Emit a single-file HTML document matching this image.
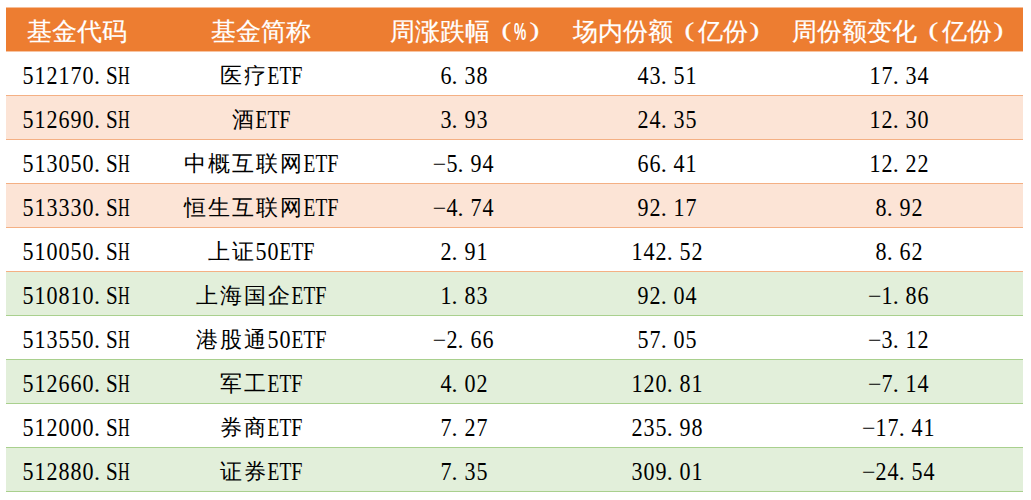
<!DOCTYPE html><html><head><meta charset="utf-8"><style>
html,body{margin:0;padding:0;background:#fff;width:1031px;height:500px;overflow:hidden;position:relative}
.bg{position:absolute;left:6px;width:1017px}
.t{position:absolute;white-space:nowrap;height:44px;line-height:44px;font-family:"Liberation Serif",serif;font-size:24px;color:#000}
.cen{width:400px;text-align:center}
.h{color:#fff}
i{font-style:normal;display:inline-flex;justify-content:center;vertical-align:top;height:44px}
b{font-weight:normal;display:inline-block}
i.a{width:12px}
i.d{font-size:24.8px;transform:scaleX(0.89)}
i.a b{font-size:24.5px}
i.p{justify-content:flex-start;text-indent:0}
i.p b, i.p{}
i.c{width:24px;font-size:22px;font-weight:300}
.h i.c{font-size:24.5px;font-weight:500;width:25px;-webkit-text-stroke:0.2px #fff}
.h i.a{width:13px}
i.po{justify-content:flex-end}
i.po b{margin-right:5px}
i.pcl{justify-content:flex-start}
i.pcl b{margin-left:3px}
i.pc b{font-weight:bold;font-size:23px;transform:scaleX(0.6);font-family:"Liberation Sans",sans-serif;position:relative;top:0px;left:-1px}
.h i.po, .h i.pcl{font-size:25px;font-weight:normal;font-family:"Liberation Serif",serif}
.h i.po b, .h i.pcl b{transform:scaleX(1.4);font-size:21px;position:relative;top:-2px}
</style></head><body>

<div class="bg" style="top:7px;height:1px;background:#ED7D31;opacity:0.5"></div>
<div class="bg" style="top:8px;height:43px;background:#ED7D31"></div>
<div class="bg" style="top:51px;height:1px;background:#ED7D31;opacity:0.45"></div>
<div class="bg" style="top:52px;height:43px;background:#fff"></div>
<div class="bg" style="top:95px;height:1px;background:#F4B084"></div>
<div class="bg" style="top:96px;height:43px;background:#FCE4D6"></div>
<div class="bg" style="top:139px;height:1px;background:#F4B084"></div>
<div class="bg" style="top:140px;height:43px;background:#fff"></div>
<div class="bg" style="top:183px;height:1px;background:#F4B084"></div>
<div class="bg" style="top:184px;height:43px;background:#FCE4D6"></div>
<div class="bg" style="top:227px;height:1px;background:#F4B084"></div>
<div class="bg" style="top:228px;height:43px;background:#fff"></div>
<div class="bg" style="top:271px;height:1px;background:#F4B084"></div>
<div class="bg" style="top:272px;height:43px;background:#E2EFDA"></div>
<div class="bg" style="top:315px;height:1px;background:#A9D08E"></div>
<div class="bg" style="top:316px;height:43px;background:#fff"></div>
<div class="bg" style="top:359px;height:1px;background:#A9D08E"></div>
<div class="bg" style="top:360px;height:43px;background:#E2EFDA"></div>
<div class="bg" style="top:403px;height:1px;background:#A9D08E"></div>
<div class="bg" style="top:404px;height:43px;background:#fff"></div>
<div class="bg" style="top:447px;height:1px;background:#A9D08E"></div>
<div class="bg" style="top:448px;height:43px;background:#E2EFDA"></div>
<div class="bg" style="top:491px;height:1px;background:#A9D08E"></div>
<div class="t h" style="top:10px;left:26.5px"><i class="c">基</i><i class="c">金</i><i class="c">代</i><i class="c">码</i></div>
<div class="t h" style="top:10px;left:210.5px"><i class="c">基</i><i class="c">金</i><i class="c">简</i><i class="c">称</i></div>
<div class="t h" style="top:10px;left:389.5px"><i class="c">周</i><i class="c">涨</i><i class="c">跌</i><i class="c">幅</i><i class="c po"><b>(</b></i><i class="a pc"><b>%</b></i><i class="c pcl"><b>)</b></i></div>
<div class="t h" style="top:10px;left:573px"><i class="c">场</i><i class="c">内</i><i class="c">份</i><i class="c">额</i><i class="c po"><b>(</b></i><i class="c">亿</i><i class="c">份</i><i class="c pcl"><b>)</b></i></div>
<div class="t h" style="top:10px;left:792px"><i class="c">周</i><i class="c">份</i><i class="c">额</i><i class="c">变</i><i class="c">化</i><i class="c po"><b>(</b></i><i class="c">亿</i><i class="c">份</i><i class="c pcl"><b>)</b></i></div>
<div class="t" style="top:54px;left:22px"><i class="a d">5</i><i class="a d">1</i><i class="a d">2</i><i class="a d">1</i><i class="a d">7</i><i class="a d">0</i><i class="a p">.</i><i class="a"><b style="transform:scaleX(0.86)">S</b></i><i class="a"><b style="transform:scaleX(0.66)">H</b></i></div>
<div class="t cen" style="top:54px;left:61px"><i class="c">医</i><i class="c">疗</i><i class="a"><b style="transform:scaleX(0.79)">E</b></i><i class="a"><b style="transform:scaleX(0.79)">T</b></i><i class="a"><b style="transform:scaleX(0.82)">F</b></i></div>
<div class="t cen" style="top:54px;left:263.5px"><i class="a d">6</i><i class="a p">.</i><i class="a d">3</i><i class="a d">8</i></div>
<div class="t cen" style="top:54px;left:466.70000000000005px"><i class="a d">4</i><i class="a d">3</i><i class="a p">.</i><i class="a d">5</i><i class="a d">1</i></div>
<div class="t cen" style="top:54px;left:698.7px"><i class="a d">1</i><i class="a d">7</i><i class="a p">.</i><i class="a d">3</i><i class="a d">4</i></div>
<div class="t" style="top:98px;left:22px"><i class="a d">5</i><i class="a d">1</i><i class="a d">2</i><i class="a d">6</i><i class="a d">9</i><i class="a d">0</i><i class="a p">.</i><i class="a"><b style="transform:scaleX(0.86)">S</b></i><i class="a"><b style="transform:scaleX(0.66)">H</b></i></div>
<div class="t cen" style="top:98px;left:61px"><i class="c">酒</i><i class="a"><b style="transform:scaleX(0.79)">E</b></i><i class="a"><b style="transform:scaleX(0.79)">T</b></i><i class="a"><b style="transform:scaleX(0.82)">F</b></i></div>
<div class="t cen" style="top:98px;left:263.5px"><i class="a d">3</i><i class="a p">.</i><i class="a d">9</i><i class="a d">3</i></div>
<div class="t cen" style="top:98px;left:466.70000000000005px"><i class="a d">2</i><i class="a d">4</i><i class="a p">.</i><i class="a d">3</i><i class="a d">5</i></div>
<div class="t cen" style="top:98px;left:698.7px"><i class="a d">1</i><i class="a d">2</i><i class="a p">.</i><i class="a d">3</i><i class="a d">0</i></div>
<div class="t" style="top:142px;left:22px"><i class="a d">5</i><i class="a d">1</i><i class="a d">3</i><i class="a d">0</i><i class="a d">5</i><i class="a d">0</i><i class="a p">.</i><i class="a"><b style="transform:scaleX(0.86)">S</b></i><i class="a"><b style="transform:scaleX(0.66)">H</b></i></div>
<div class="t cen" style="top:142px;left:61px"><i class="c">中</i><i class="c">概</i><i class="c">互</i><i class="c">联</i><i class="c">网</i><i class="a"><b style="transform:scaleX(0.79)">E</b></i><i class="a"><b style="transform:scaleX(0.79)">T</b></i><i class="a"><b style="transform:scaleX(0.82)">F</b></i></div>
<div class="t cen" style="top:142px;left:263.5px"><i class="a m">&#8722;</i><i class="a d">5</i><i class="a p">.</i><i class="a d">9</i><i class="a d">4</i></div>
<div class="t cen" style="top:142px;left:466.70000000000005px"><i class="a d">6</i><i class="a d">6</i><i class="a p">.</i><i class="a d">4</i><i class="a d">1</i></div>
<div class="t cen" style="top:142px;left:698.7px"><i class="a d">1</i><i class="a d">2</i><i class="a p">.</i><i class="a d">2</i><i class="a d">2</i></div>
<div class="t" style="top:186px;left:22px"><i class="a d">5</i><i class="a d">1</i><i class="a d">3</i><i class="a d">3</i><i class="a d">3</i><i class="a d">0</i><i class="a p">.</i><i class="a"><b style="transform:scaleX(0.86)">S</b></i><i class="a"><b style="transform:scaleX(0.66)">H</b></i></div>
<div class="t cen" style="top:186px;left:61px"><i class="c">恒</i><i class="c">生</i><i class="c">互</i><i class="c">联</i><i class="c">网</i><i class="a"><b style="transform:scaleX(0.79)">E</b></i><i class="a"><b style="transform:scaleX(0.79)">T</b></i><i class="a"><b style="transform:scaleX(0.82)">F</b></i></div>
<div class="t cen" style="top:186px;left:263.5px"><i class="a m">&#8722;</i><i class="a d">4</i><i class="a p">.</i><i class="a d">7</i><i class="a d">4</i></div>
<div class="t cen" style="top:186px;left:466.70000000000005px"><i class="a d">9</i><i class="a d">2</i><i class="a p">.</i><i class="a d">1</i><i class="a d">7</i></div>
<div class="t cen" style="top:186px;left:698.7px"><i class="a d">8</i><i class="a p">.</i><i class="a d">9</i><i class="a d">2</i></div>
<div class="t" style="top:230px;left:22px"><i class="a d">5</i><i class="a d">1</i><i class="a d">0</i><i class="a d">0</i><i class="a d">5</i><i class="a d">0</i><i class="a p">.</i><i class="a"><b style="transform:scaleX(0.86)">S</b></i><i class="a"><b style="transform:scaleX(0.66)">H</b></i></div>
<div class="t cen" style="top:230px;left:61px"><i class="c">上</i><i class="c">证</i><i class="a d">5</i><i class="a d">0</i><i class="a"><b style="transform:scaleX(0.79)">E</b></i><i class="a"><b style="transform:scaleX(0.79)">T</b></i><i class="a"><b style="transform:scaleX(0.82)">F</b></i></div>
<div class="t cen" style="top:230px;left:263.5px"><i class="a d">2</i><i class="a p">.</i><i class="a d">9</i><i class="a d">1</i></div>
<div class="t cen" style="top:230px;left:466.70000000000005px"><i class="a d">1</i><i class="a d">4</i><i class="a d">2</i><i class="a p">.</i><i class="a d">5</i><i class="a d">2</i></div>
<div class="t cen" style="top:230px;left:698.7px"><i class="a d">8</i><i class="a p">.</i><i class="a d">6</i><i class="a d">2</i></div>
<div class="t" style="top:274px;left:22px"><i class="a d">5</i><i class="a d">1</i><i class="a d">0</i><i class="a d">8</i><i class="a d">1</i><i class="a d">0</i><i class="a p">.</i><i class="a"><b style="transform:scaleX(0.86)">S</b></i><i class="a"><b style="transform:scaleX(0.66)">H</b></i></div>
<div class="t cen" style="top:274px;left:61px"><i class="c">上</i><i class="c">海</i><i class="c">国</i><i class="c">企</i><i class="a"><b style="transform:scaleX(0.79)">E</b></i><i class="a"><b style="transform:scaleX(0.79)">T</b></i><i class="a"><b style="transform:scaleX(0.82)">F</b></i></div>
<div class="t cen" style="top:274px;left:263.5px"><i class="a d">1</i><i class="a p">.</i><i class="a d">8</i><i class="a d">3</i></div>
<div class="t cen" style="top:274px;left:466.70000000000005px"><i class="a d">9</i><i class="a d">2</i><i class="a p">.</i><i class="a d">0</i><i class="a d">4</i></div>
<div class="t cen" style="top:274px;left:698.7px"><i class="a m">&#8722;</i><i class="a d">1</i><i class="a p">.</i><i class="a d">8</i><i class="a d">6</i></div>
<div class="t" style="top:318px;left:22px"><i class="a d">5</i><i class="a d">1</i><i class="a d">3</i><i class="a d">5</i><i class="a d">5</i><i class="a d">0</i><i class="a p">.</i><i class="a"><b style="transform:scaleX(0.86)">S</b></i><i class="a"><b style="transform:scaleX(0.66)">H</b></i></div>
<div class="t cen" style="top:318px;left:61px"><i class="c">港</i><i class="c">股</i><i class="c">通</i><i class="a d">5</i><i class="a d">0</i><i class="a"><b style="transform:scaleX(0.79)">E</b></i><i class="a"><b style="transform:scaleX(0.79)">T</b></i><i class="a"><b style="transform:scaleX(0.82)">F</b></i></div>
<div class="t cen" style="top:318px;left:263.5px"><i class="a m">&#8722;</i><i class="a d">2</i><i class="a p">.</i><i class="a d">6</i><i class="a d">6</i></div>
<div class="t cen" style="top:318px;left:466.70000000000005px"><i class="a d">5</i><i class="a d">7</i><i class="a p">.</i><i class="a d">0</i><i class="a d">5</i></div>
<div class="t cen" style="top:318px;left:698.7px"><i class="a m">&#8722;</i><i class="a d">3</i><i class="a p">.</i><i class="a d">1</i><i class="a d">2</i></div>
<div class="t" style="top:362px;left:22px"><i class="a d">5</i><i class="a d">1</i><i class="a d">2</i><i class="a d">6</i><i class="a d">6</i><i class="a d">0</i><i class="a p">.</i><i class="a"><b style="transform:scaleX(0.86)">S</b></i><i class="a"><b style="transform:scaleX(0.66)">H</b></i></div>
<div class="t cen" style="top:362px;left:61px"><i class="c">军</i><i class="c">工</i><i class="a"><b style="transform:scaleX(0.79)">E</b></i><i class="a"><b style="transform:scaleX(0.79)">T</b></i><i class="a"><b style="transform:scaleX(0.82)">F</b></i></div>
<div class="t cen" style="top:362px;left:263.5px"><i class="a d">4</i><i class="a p">.</i><i class="a d">0</i><i class="a d">2</i></div>
<div class="t cen" style="top:362px;left:466.70000000000005px"><i class="a d">1</i><i class="a d">2</i><i class="a d">0</i><i class="a p">.</i><i class="a d">8</i><i class="a d">1</i></div>
<div class="t cen" style="top:362px;left:698.7px"><i class="a m">&#8722;</i><i class="a d">7</i><i class="a p">.</i><i class="a d">1</i><i class="a d">4</i></div>
<div class="t" style="top:406px;left:22px"><i class="a d">5</i><i class="a d">1</i><i class="a d">2</i><i class="a d">0</i><i class="a d">0</i><i class="a d">0</i><i class="a p">.</i><i class="a"><b style="transform:scaleX(0.86)">S</b></i><i class="a"><b style="transform:scaleX(0.66)">H</b></i></div>
<div class="t cen" style="top:406px;left:61px"><i class="c">券</i><i class="c">商</i><i class="a"><b style="transform:scaleX(0.79)">E</b></i><i class="a"><b style="transform:scaleX(0.79)">T</b></i><i class="a"><b style="transform:scaleX(0.82)">F</b></i></div>
<div class="t cen" style="top:406px;left:263.5px"><i class="a d">7</i><i class="a p">.</i><i class="a d">2</i><i class="a d">7</i></div>
<div class="t cen" style="top:406px;left:466.70000000000005px"><i class="a d">2</i><i class="a d">3</i><i class="a d">5</i><i class="a p">.</i><i class="a d">9</i><i class="a d">8</i></div>
<div class="t cen" style="top:406px;left:698.7px"><i class="a m">&#8722;</i><i class="a d">1</i><i class="a d">7</i><i class="a p">.</i><i class="a d">4</i><i class="a d">1</i></div>
<div class="t" style="top:450px;left:22px"><i class="a d">5</i><i class="a d">1</i><i class="a d">2</i><i class="a d">8</i><i class="a d">8</i><i class="a d">0</i><i class="a p">.</i><i class="a"><b style="transform:scaleX(0.86)">S</b></i><i class="a"><b style="transform:scaleX(0.66)">H</b></i></div>
<div class="t cen" style="top:450px;left:61px"><i class="c">证</i><i class="c">券</i><i class="a"><b style="transform:scaleX(0.79)">E</b></i><i class="a"><b style="transform:scaleX(0.79)">T</b></i><i class="a"><b style="transform:scaleX(0.82)">F</b></i></div>
<div class="t cen" style="top:450px;left:263.5px"><i class="a d">7</i><i class="a p">.</i><i class="a d">3</i><i class="a d">5</i></div>
<div class="t cen" style="top:450px;left:466.70000000000005px"><i class="a d">3</i><i class="a d">0</i><i class="a d">9</i><i class="a p">.</i><i class="a d">0</i><i class="a d">1</i></div>
<div class="t cen" style="top:450px;left:698.7px"><i class="a m">&#8722;</i><i class="a d">2</i><i class="a d">4</i><i class="a p">.</i><i class="a d">5</i><i class="a d">4</i></div>
</body></html>
